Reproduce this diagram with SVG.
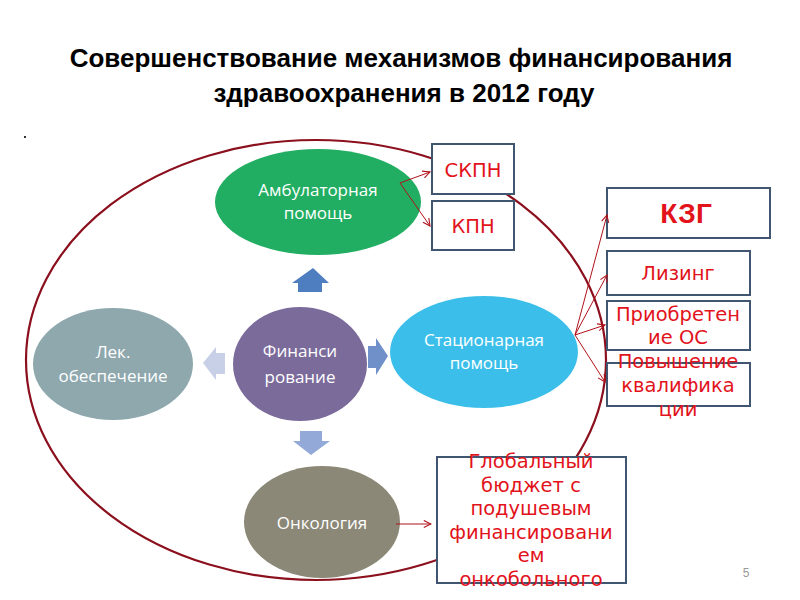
<svg xmlns="http://www.w3.org/2000/svg" width="800" height="600" viewBox="0 0 800 600">
<defs>
<style>
.title{font-family:"Liberation Sans",Arial,sans-serif;font-weight:bold;font-size:26px;fill:#000;text-anchor:middle}
.nt{font-family:"Open Sans","Noto Sans",sans-serif;font-size:17px;fill:#fff;text-anchor:middle}
.box{fill:#fff;stroke:#3f5570;stroke-width:2}
.bt{font-family:"DejaVu Sans",Verdana,sans-serif;font-size:19.5px;fill:#e2131b;text-anchor:middle}
.ln{stroke:#b0121a;stroke-width:1;fill:none;marker-end:url(#ah)}
</style>
<marker id="ah" viewBox="0 0 10 10" refX="9" refY="5" markerWidth="9" markerHeight="9" markerUnits="userSpaceOnUse" orient="auto">
<path d="M1,1 L9,5 L1,9" fill="none" stroke="#b0121a" stroke-width="1.2"/>
</marker>
</defs>
<rect width="800" height="600" fill="#fff"/>
<text class="title" x="401" y="67">Совершенствование механизмов финансирования</text>
<text class="title" x="404" y="102">здравоохранения в 2012 году</text>
<rect x="24" y="136" width="2" height="2" fill="#333"/>
<text x="746" y="577" font-family="Liberation Sans,Arial,sans-serif" font-size="12" fill="#999" text-anchor="middle">5</text>

<ellipse id="frame" cx="316" cy="360" rx="290" ry="220" fill="none" stroke="#8b0f1c" stroke-width="2.2"/>

<g id="ambul"><ellipse cx="318" cy="202" rx="103" ry="53" fill="#21ae62"/><text class="nt" x="318" y="196">Амбулаторная</text><text class="nt" x="318" y="219">помощь</text></g>
<g id="fin"><ellipse cx="300" cy="364" rx="67" ry="57" fill="#7b6b9b"/><text class="nt" x="300" y="357" font-size="20">Финанси</text><text class="nt" x="300" y="383" font-size="20">рование</text></g>
<g id="lek"><ellipse cx="113" cy="364" rx="80" ry="56" fill="#8ea8ae"/><text class="nt" x="113" y="358">Лек.</text><text class="nt" x="113" y="382">обеспечение</text></g>
<g id="stac"><ellipse cx="484" cy="352" rx="94" ry="56" fill="#3bbfea"/><text class="nt" x="484" y="346">Стационарная</text><text class="nt" x="484" y="369">помощь</text></g>
<g id="onko"><ellipse cx="322" cy="522" rx="78" ry="56" fill="#8b8877"/><text class="nt" x="322" y="529">Онкология</text></g>

<g id="blockarrows">
<path d="M313,268 L329,283 L322,283 L322,292 L298,292 L298,283 L292,283 Z" fill="#4f7ec0"/>
<path d="M388,356 L376,338 L376,346 L368,346 L368,368 L376,368 L376,375 Z" fill="#6f90c8"/>
<path d="M311,455 L330,441 L322,441 L322,431 L300,431 L300,441 L293,441 Z" fill="#93a9d8"/>
<path d="M203,363 L216,347 L216,353 L225,353 L225,374 L216,374 L216,380 Z" fill="#c8d0e8"/>
</g>

<g id="skpn"><rect class="box" x="432" y="144" width="82" height="50"/><text class="bt" x="473" y="177" font-size="21">СКПН</text></g>
<g id="kpn"><rect class="box" x="432" y="201" width="82" height="49"/><text class="bt" x="473" y="233" font-size="21">КПН</text></g>
<g id="kzg"><rect class="box" x="607" y="188" width="163" height="50"/><text x="686" y="223" font-family="Liberation Sans,Arial,sans-serif" font-size="28" font-weight="bold" fill="#e2131b" text-anchor="middle">КЗГ</text></g>
<g id="lizing"><rect class="box" x="607" y="251" width="143" height="44"/><text class="bt" x="678" y="280">Лизинг</text></g>
<g id="priobr"><rect class="box" x="607" y="301" width="143" height="49"/><text class="bt" x="678" y="321">Приобретен</text><text class="bt" x="678" y="344">ие ОС</text></g>
<g id="povysh"><rect class="box" x="607" y="363" width="143" height="43"/><text class="bt" x="678" y="368">Повышение</text><text class="bt" x="678" y="392">квалифика</text><text class="bt" x="678" y="416">ции</text></g>
<g id="global"><rect class="box" x="437" y="457" width="189" height="126"/>
<text class="bt" x="531" y="468">Глобальный</text><text class="bt" x="531" y="492">бюджет с</text><text class="bt" x="531" y="515">подушевым</text><text class="bt" x="531" y="539">финансировани</text><text class="bt" x="531" y="562">ем</text><text class="bt" x="531" y="586">онкобольного</text></g>

<g id="connectors">
<path class="ln" d="M400,183 L430,172"/>
<path class="ln" d="M400,183 L430,226"/>
<path class="ln" d="M575,335 L607,215"/>
<path class="ln" d="M575,335 L607,275"/>
<path class="ln" d="M575,335 L605,325"/>
<path class="ln" d="M575,335 L605,382"/>
<path class="ln" d="M396,524 L431,524"/>
</g>
</svg>
